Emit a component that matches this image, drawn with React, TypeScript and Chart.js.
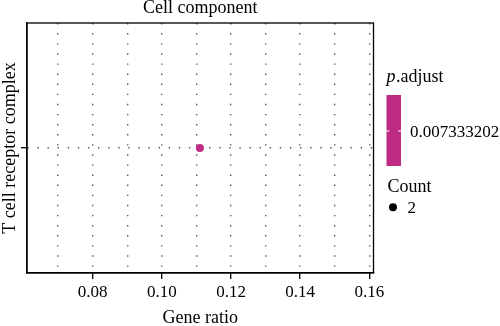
import React, { useEffect, useRef } from "react";
import { Chart, registerables } from "chart.js";

Chart.register(...registerables);

// ---- data ----
const categories = ["T cell receptor complex"];
const geneRatio = [0.111];
const counts = [2];
const pAdjust = [0.007333202];
const xGridValues = [0.07, 0.08, 0.09, 0.1, 0.11, 0.12, 0.13, 0.14, 0.15, 0.16];
const xTickLabels = ["0.08", "0.10", "0.12", "0.14", "0.16"];
const xMin = 0.061;
const xMax = 0.1612;
const chartTitle = "Cell component";
const xTitle = "Gene ratio";
const colorTitleItalic = "p";
const colorTitleRest = ".adjust";
const sizeTitle = "Count";
const sizeLabels = ["2"];

const pointColor = "#BE2A84";
const FONT = "'Liberation Serif', 'Times New Roman', serif";
const gridColor = "rgba(70,70,70,0.9)";

const isMajor = (v: number) => xTickLabels.includes(Number(v).toFixed(2));

const legendPlugin = {
  id: "frameAndLegend",
  afterDraw(chart: any) {
    const { ctx, chartArea: a } = chart;
    ctx.save();
    // panel frame
    ctx.strokeStyle = "#000";
    ctx.lineWidth = 1.3;
    ctx.strokeRect(a.left, a.top, a.right - a.left, a.bottom - a.top);

    // colour legend title
    ctx.fillStyle = "#000";
    ctx.textBaseline = "alphabetic";
    ctx.textAlign = "left";
    ctx.font = `italic 18px ${FONT}`;
    const lx = 386.5;
    ctx.fillText(colorTitleItalic, lx, 81.5);
    const pw = ctx.measureText(colorTitleItalic).width;
    ctx.font = `18px ${FONT}`;
    ctx.fillText(colorTitleRest, lx + pw + 0.5, 81.5);

    // colour bar
    ctx.fillStyle = pointColor;
    ctx.fillRect(lx, 95, 14.5, 71);
    ctx.strokeStyle = "#fff";
    ctx.lineWidth = 1;
    ctx.beginPath();
    ctx.moveTo(lx, 131);
    ctx.lineTo(lx + 3, 131);
    ctx.moveTo(lx + 11.5, 131);
    ctx.lineTo(lx + 14.5, 131);
    ctx.stroke();
    ctx.fillStyle = "#000";
    ctx.font = `17px ${FONT}`;
    ctx.fillText(String(pAdjust[0]), 410, 136.7);

    // size legend
    ctx.font = `18px ${FONT}`;
    ctx.fillText(sizeTitle, 387.5, 192.3);
    ctx.beginPath();
    ctx.arc(393, 207.3, 4, 0, Math.PI * 2);
    ctx.fill();
    ctx.font = `17px ${FONT}`;
    ctx.fillText(sizeLabels[0], 407.5, 212.7);
    ctx.restore();
  },
};

export default function App() {
  const ref = useRef<HTMLCanvasElement | null>(null);

  useEffect(() => {
    document.body.style.margin = "0";
    const canvas = ref.current!;
    const chart = new Chart(canvas, {
      type: "scatter",
      data: {
        datasets: [
          {
            data: geneRatio.map((g, i) => ({ x: g, y: categories[i] })) as any,
            backgroundColor: pointColor,
            borderColor: pointColor,
            pointRadius: counts.map((c) => c * 2),
            pointBorderWidth: 0,
          },
        ],
      },
      options: {
        responsive: false,
        animation: false,
        devicePixelRatio: 1,
        layout: { padding: { left: 0, right: 126.5, top: 0, bottom: 0 } },
        plugins: {
          legend: { display: false },
          tooltip: { enabled: false },
          title: {
            display: true,
            text: chartTitle,
            color: "#000",
            fullSize: false,
            font: { family: FONT, size: 18, weight: "normal", lineHeight: 0.9 },
            padding: { top: 0, bottom: 6.8 },
          },
        },
        scales: {
          x: {
            type: "linear",
            min: xMin,
            max: xMax,
            afterBuildTicks: (axis: any) => {
              axis.ticks = xGridValues.map((v) => ({ value: v }));
            },
            afterFit: (scale: any) => {
              scale.height = 53;
            },
            ticks: {
              color: "#000",
              padding: 5,
              maxRotation: 0,
              autoSkip: false,
              font: { family: FONT, size: 17, lineHeight: 1 },
              callback: (v: any) => (isMajor(v) ? Number(v).toFixed(2) : ""),
            },
            grid: {
              color: gridColor,
              lineWidth: 1.4,
              drawTicks: true,
              tickLength: 6,
              tickWidth: 1.3,
              tickBorderDash: [],
              tickColor: (c: any) => (c.tick && isMajor(c.tick.value) ? "#000" : "rgba(0,0,0,0)"),
            },
            border: { display: true, color: "#000", width: 1.3, dash: [1.4, 8.7] },
            title: {
              display: true,
              text: xTitle,
              color: "#000",
              font: { family: FONT, size: 18, lineHeight: 0.9 },
              padding: { top: 0, bottom: 0 },
            },
          },
          y: {
            type: "category",
            labels: categories,
            offset: true,
            afterFit: (scale: any) => {
              scale.width = 27;
            },
            ticks: { display: false },
            grid: {
              color: gridColor,
              lineWidth: 1.4,
              offset: false,
              drawTicks: true,
              tickLength: 6,
              tickWidth: 1.3,
              tickColor: "#000",
              tickBorderDash: [],
            },
            border: { display: true, color: "#000", width: 1.3, dash: [1.4, 8.7] },
            title: {
              display: true,
              text: categories[0],
              color: "#000",
              font: { family: FONT, size: 18, lineHeight: 0.9 },
              padding: { top: 2.5, bottom: 0 },
            },
          },
        },
      },
      plugins: [legendPlugin],
    });
    return () => chart.destroy();
  }, []);

  return (
    <div style={{ position: "absolute", left: 0, top: 0, width: 500, height: 326 }}>
      <canvas ref={ref} width={500} height={326} style={{ width: 500, height: 326, display: "block" }} />
    </div>
  );
}
